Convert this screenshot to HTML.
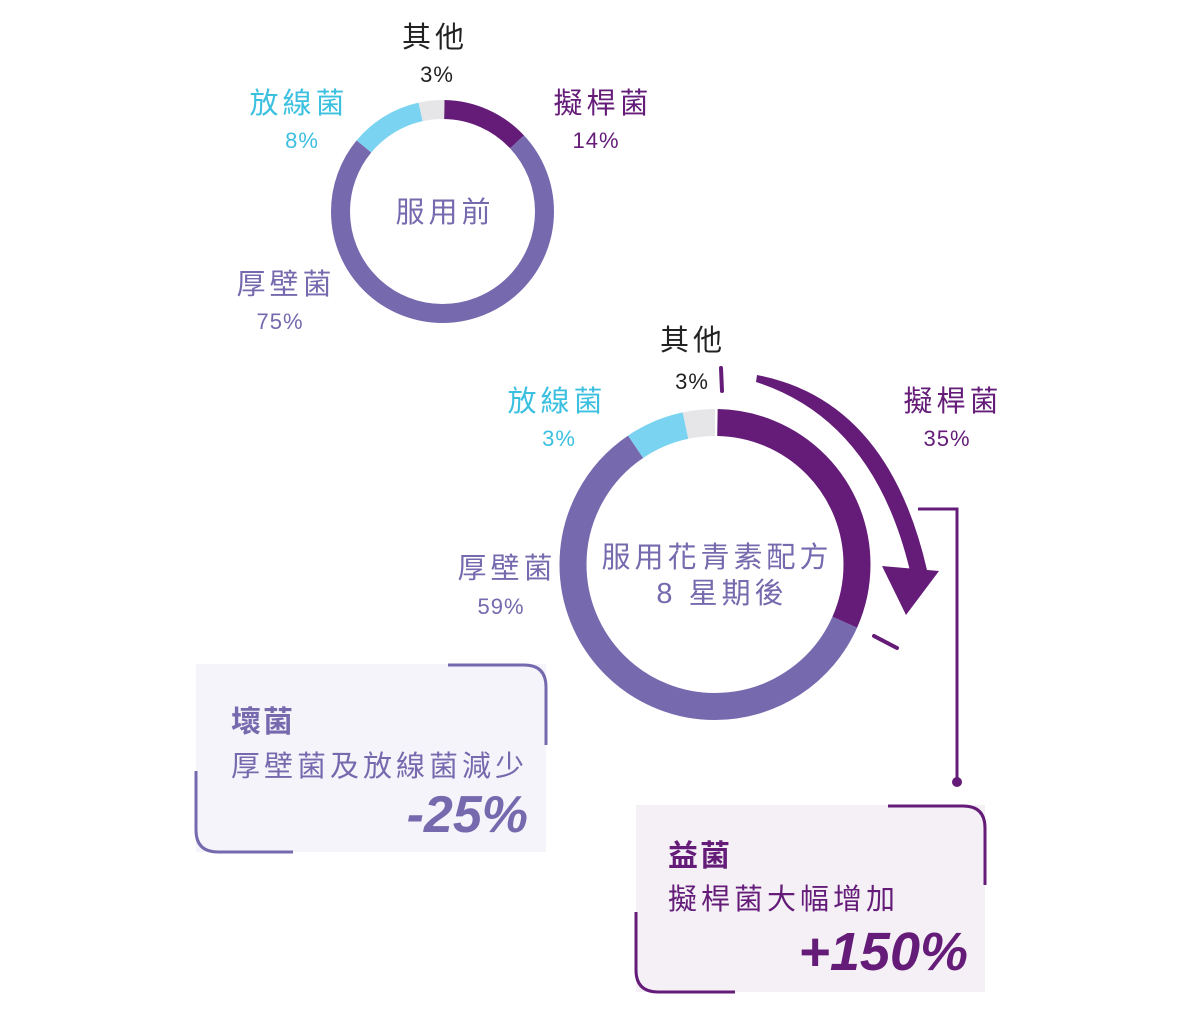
<!DOCTYPE html>
<html><head><meta charset="utf-8"><style>
html,body{margin:0;padding:0;background:#fff;}
svg{display:block;}
text{font-family:"Liberation Sans","Noto Sans CJK TC",sans-serif;}
.l{letter-spacing:4px;}
.p{letter-spacing:1px;}
</style></head><body>
<svg width="1200" height="1018" viewBox="0 0 1200 1018" xmlns="http://www.w3.org/2000/svg">
<!-- Donut 1 -->
<g transform="rotate(-90 442.5 211.5)" fill="none" stroke-width="19">
<circle cx="442.5" cy="211.5" r="102" pathLength="360" stroke="#641c78" stroke-dasharray="46 314" stroke-dashoffset="-1"/>
<circle cx="442.5" cy="211.5" r="102" pathLength="360" stroke="#7669ae" stroke-dasharray="263 97" stroke-dashoffset="-47"/>
<circle cx="442.5" cy="211.5" r="102" pathLength="360" stroke="#7ad3f0" stroke-dasharray="38 322" stroke-dashoffset="-310"/>
<circle cx="442.5" cy="211.5" r="102" pathLength="360" stroke="#e6e6e8" stroke-dasharray="13 347" stroke-dashoffset="-348"/>
</g>
<g font-size="29" text-anchor="middle">
<text class="l" x="435" y="47" fill="#222">其他</text>
<text class="p" x="437" y="82" font-size="22" fill="#222">3%</text>
<text class="l" x="299" y="113" fill="#3cc0e0">放線菌</text>
<text class="p" x="302" y="148" font-size="22" fill="#3cc0e0">8%</text>
<text class="l" x="603" y="113" fill="#641c78">擬桿菌</text>
<text class="p" x="596" y="148" font-size="22" fill="#641c78">14%</text>
<text class="l" x="445" y="222" fill="#7669ae">服用前</text>
<text class="l" x="286" y="294" fill="#7669ae">厚壁菌</text>
<text class="p" x="280" y="329" font-size="22" fill="#7669ae">75%</text>
</g>
<!-- Donut 2 -->
<g transform="rotate(-90 715 564.5)" fill="none" stroke-width="27">
<circle cx="715" cy="564.5" r="142" pathLength="360" stroke="#641c78" stroke-dasharray="113 247" stroke-dashoffset="-1"/>
<circle cx="715" cy="564.5" r="142" pathLength="360" stroke="#7669ae" stroke-dasharray="212 148" stroke-dashoffset="-114"/>
<circle cx="715" cy="564.5" r="142" pathLength="360" stroke="#7ad3f0" stroke-dasharray="22 338" stroke-dashoffset="-326"/>
<circle cx="715" cy="564.5" r="142" pathLength="360" stroke="#e6e6e8" stroke-dasharray="12 348" stroke-dashoffset="-348"/>
</g>
<g font-size="29" text-anchor="middle">
<text class="l" x="693" y="350" fill="#222">其他</text>
<text class="p" x="692" y="389" font-size="22" fill="#222">3%</text>
<text class="l" x="557" y="411" fill="#3cc0e0">放線菌</text>
<text class="p" x="559" y="446" font-size="22" fill="#3cc0e0">3%</text>
<text class="l" x="953" y="411" fill="#641c78">擬桿菌</text>
<text class="p" x="947" y="446" font-size="22" fill="#641c78">35%</text>
<text class="l" x="507" y="578" fill="#7669ae">厚壁菌</text>
<text class="p" x="501" y="614" font-size="22" fill="#7669ae">59%</text>
<text class="l" x="717" y="567" fill="#7669ae">服用花青素配方</text>
<text class="l" x="722" y="603" fill="#7669ae">8 星期後</text>
</g>
<!-- ticks -->
<line x1="721" y1="368" x2="722" y2="391" stroke="#641c78" stroke-width="4" stroke-linecap="round"/>
<line x1="874" y1="636" x2="897" y2="648" stroke="#641c78" stroke-width="4" stroke-linecap="round"/>
<!-- curved arrow -->
<path d="M757 375 Q888 400 927 570 L910 571 Q874 420 756 382 Z" fill="#641c78"/>
<polygon points="882,566 939,571 906,615" fill="#641c78"/>
<!-- connector -->
<polyline points="918,509 957,509 957,782" fill="none" stroke="#641c78" stroke-width="3"/>
<circle cx="957" cy="782" r="5" fill="#641c78"/>
<!-- left box -->
<rect x="196" y="664" width="350" height="188" fill="#f5f4fa"/>
<path d="M448 665 H524 Q546 665 546 687 V745" fill="none" stroke="#7669ae" stroke-width="3"/>
<path d="M196 771 V830 Q196 852 218 852 H293" fill="none" stroke="#7669ae" stroke-width="3"/>
<text x="231" y="732" font-size="30" font-weight="bold" fill="#7669ae" letter-spacing="2">壞菌</text>
<text x="231" y="776" font-size="29" fill="#7669ae" letter-spacing="4">厚壁菌及放線菌減少</text>
<text x="528" y="832" font-size="52" font-weight="bold" font-style="italic" text-anchor="end" fill="#7669ae">-25%</text>
<!-- right box -->
<rect x="636" y="805" width="349" height="187" fill="#f4f0f6"/>
<path d="M888 806 H963 Q985 806 985 828 V885" fill="none" stroke="#641c78" stroke-width="3"/>
<path d="M636 912 V970 Q636 992 658 992 H735" fill="none" stroke="#641c78" stroke-width="3"/>
<text x="668" y="866" font-size="30" font-weight="bold" fill="#641c78" letter-spacing="2">益菌</text>
<text x="668" y="909" font-size="29" fill="#641c78" letter-spacing="4">擬桿菌大幅增加</text>
<text x="968" y="970" font-size="54" font-weight="bold" font-style="italic" text-anchor="end" fill="#641c78">+150%</text>
</svg>
</body></html>
